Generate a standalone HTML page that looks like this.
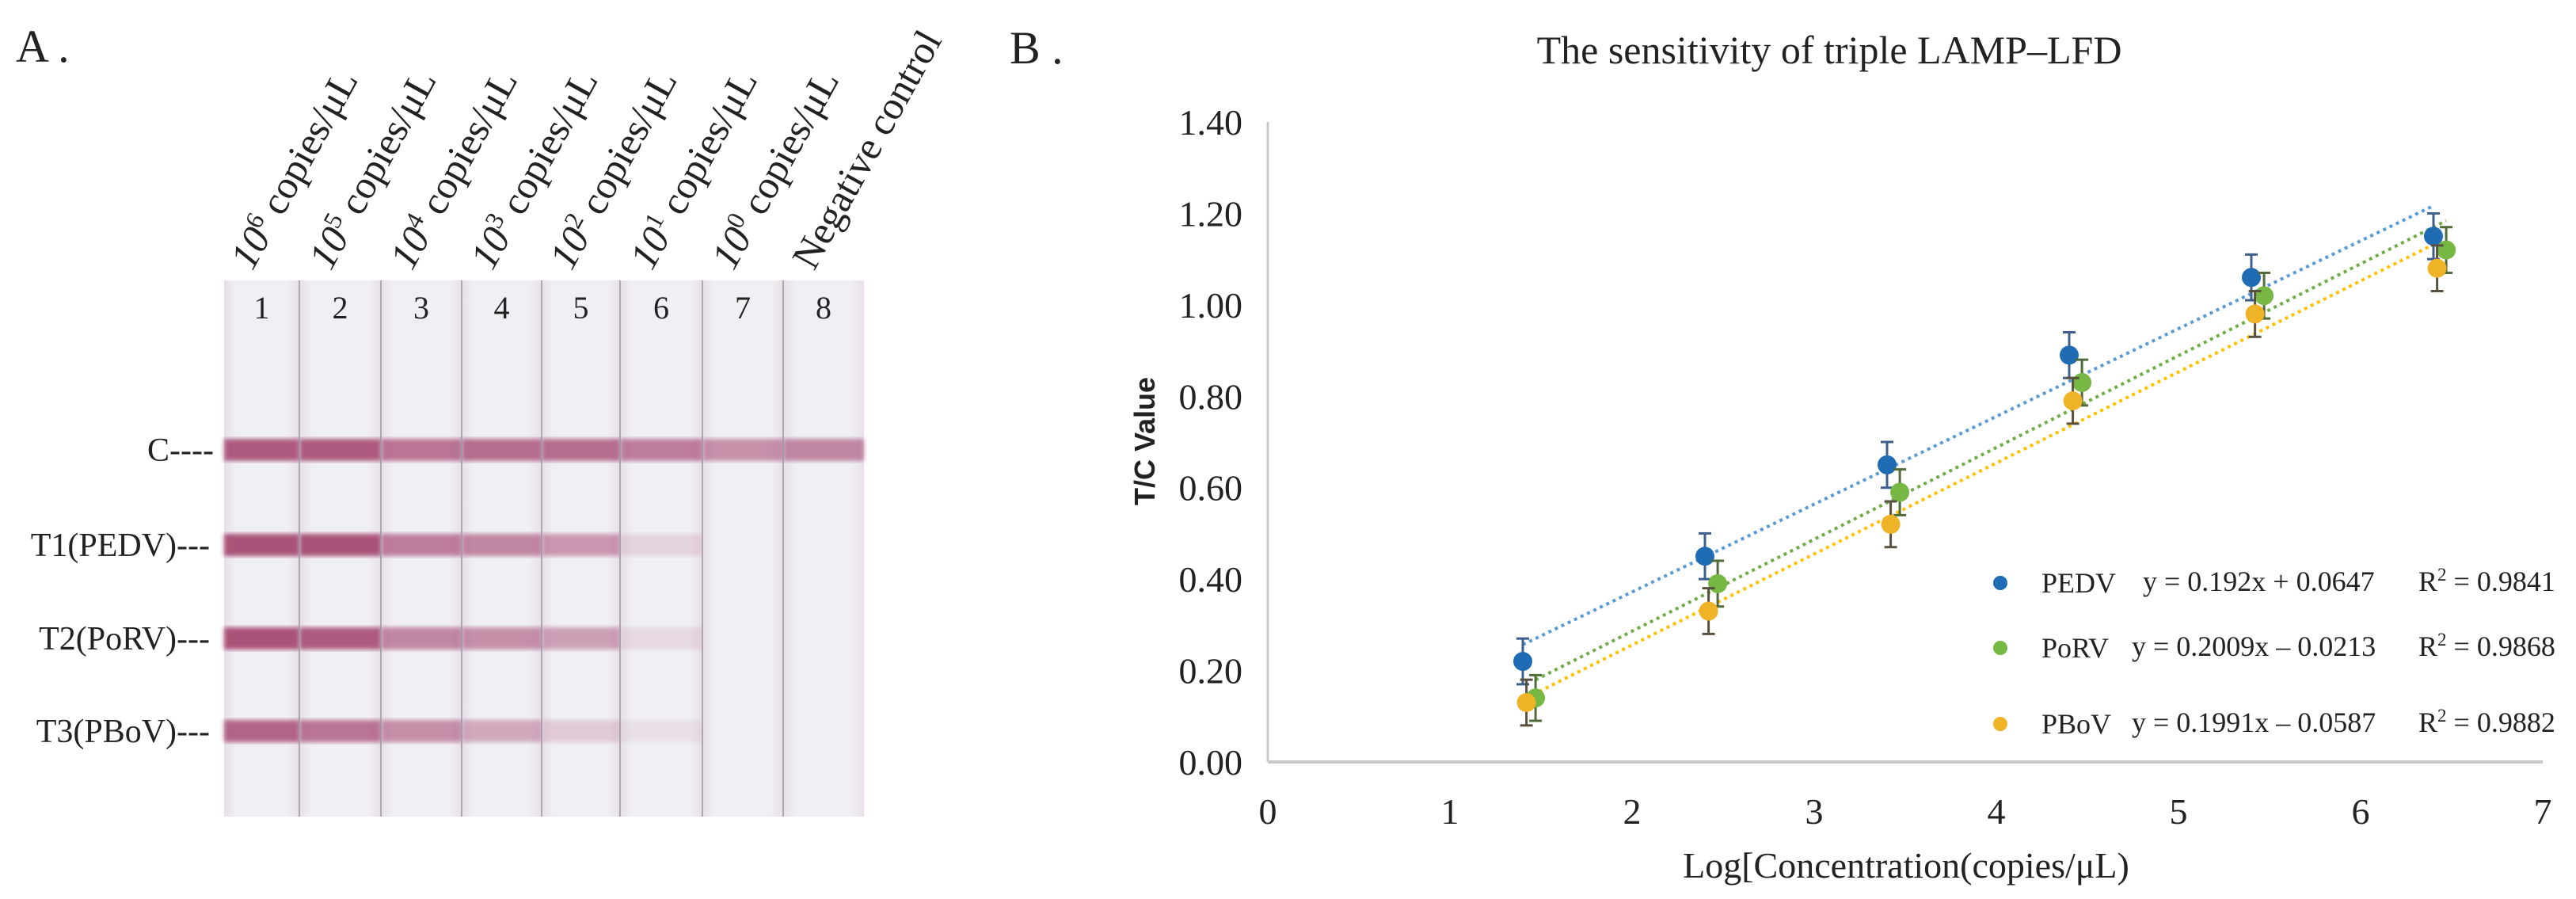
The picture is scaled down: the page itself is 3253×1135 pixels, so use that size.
<!DOCTYPE html>
<html><head><meta charset="utf-8"><style>
html,body{margin:0;padding:0;background:#fff;}
svg{display:block;}
text{font-family:"Liberation Serif",serif;fill:#222;}
</style></head><body>
<svg id="fig" width="3253" height="1135" viewBox="0 0 3253 1135" xmlns="http://www.w3.org/2000/svg">
<defs>
<linearGradient id="stripg" x1="0" x2="1" y1="0" y2="0">
<stop offset="0" stop-color="#e6dee7"/><stop offset="0.15" stop-color="#f0eff3"/><stop offset="0.85" stop-color="#f0eff3"/><stop offset="1" stop-color="#e8dfe8"/>
</linearGradient>
<filter id="blur"><feGaussianBlur stdDeviation="3"/></filter>
</defs>
<g id="panelA">
<text x="20" y="78" font-size="58">A .</text>
<g id="strips"></g>
<g id="laneLabels"></g>
<text x="270" y="582" font-size="42" text-anchor="end">C----</text>
<text x="265" y="702" font-size="42" text-anchor="end">T1(PEDV)---</text>
<text x="265" y="820" font-size="42" text-anchor="end">T2(PoRV)---</text>
<text x="265" y="937" font-size="42" text-anchor="end">T3(PBoV)---</text>
</g>
<g id="panelB">
<text x="1275" y="80" font-size="58">B .</text>
<text x="2310" y="80" font-size="50" text-anchor="middle">The sensitivity of triple LAMP–LFD</text>
<text transform="translate(1458,557) rotate(-90)" font-size="36" font-weight="bold" text-anchor="middle" style="font-family:'Liberation Sans',sans-serif" fill="#333">T/C Value</text>
<text x="2407" y="1108" font-size="46" text-anchor="middle">Log[Concentration(copies/μL)</text>
<g id="axes"></g>
<g id="marks"></g>
<g id="legend"></g>
</g>
</svg>
<script>
// ---- Panel A data ----
const laneLabels = ["10^6 copies/μL","10^5 copies/μL","10^4 copies/μL","10^3 copies/μL","10^2 copies/μL","10^1 copies/μL","10^0 copies/μL","Negative control"];
const laneEdges = [283,378,481,583,684,783,887,989,1091];
const cBand = [0.85,0.85,0.7,0.75,0.75,0.65,0.55,0.6];
const t1Band = [0.9,0.9,0.65,0.6,0.5,0.15,0,0];
const t2Band = [0.9,0.85,0.6,0.55,0.45,0.12,0,0];
const t3Band = [0.8,0.7,0.55,0.4,0.2,0.08,0,0];

// ---- Panel B data ----
const xTicks = [0,1,2,3,4,5,6,7];
const yTicks = [0,0.2,0.4,0.6,0.8,1.0,1.2,1.4];
const seriesNames = ["PEDV","PoRV","PBoV"];
const seriesX = [[1.4,2.4,3.4,4.4,5.4,6.4],[1.47,2.47,3.47,4.47,5.47,6.47],[1.42,2.42,3.42,4.42,5.42,6.42]];
const pedvY = [0.22,0.45,0.65,0.89,1.06,1.15];
const porvY = [0.14,0.39,0.59,0.83,1.02,1.12];
const pbovY = [0.13,0.33,0.52,0.79,0.98,1.08];
const errPedv = [0.05,0.05,0.05,0.05,0.05,0.05];
const errPorv = [0.05,0.05,0.05,0.05,0.05,0.05];
const errPbov = [0.05,0.05,0.05,0.05,0.05,0.05];
const slopes = [0.192,0.2009,0.1991];
const intercepts = [0.0647,-0.0213,-0.0587];
const equations = ["y = 0.192x + 0.0647","y = 0.2009x – 0.0213","y = 0.1991x – 0.0587"];
const r2 = ["0.9841","0.9868","0.9882"];

const NS="http://www.w3.org/2000/svg";
function mk(tag,attrs,parent){const e=document.createElementNS(NS,tag);for(const k in attrs)e.setAttribute(k,attrs[k]);parent.appendChild(e);return e;}

// Panel A
const strips=document.getElementById('strips');
const bandYs=[568,688,806,923];
const bands=[cBand,t1Band,t2Band,t3Band];
for(let i=0;i<8;i++){
  const x0=laneEdges[i], w=laneEdges[i+1]-laneEdges[i];
  const s=mk('rect',{x:x0,y:354,width:w,height:677,fill:'url(#stripg)'},strips);
  
  
  for(let b=0;b<4;b++){
    const v=bands[b][i]; if(v<=0) continue;
    const r=mk('rect',{x:x0,y:bandYs[b]-14,width:w,height:28,fill:'#a3436c',opacity:v,filter:'url(#blur)'},strips);
    
    
  }
  const n=mk('text',{x:x0+w/2,y:402,'font-size':40,'text-anchor':'middle',fill:'#333'},strips);
  n.textContent=String(i+1);
  
  
  if(i>0){const l=mk('line',{x1:x0,x2:x0,y1:354,y2:1031,stroke:'#9a95a0','stroke-width':1.5},strips);
    
    }
}
const ll=document.getElementById('laneLabels');
for(let i=0;i<8;i++){
  const cx=(laneEdges[i]+laneEdges[i+1])/2;
  const t=mk('text',{transform:'translate('+(cx-12)+',343) rotate(-61)','font-size':50},ll);
  
  
  const lab=laneLabels[i];
  if(lab.startsWith('10^')){
    const p=lab.split(' ');
    const base=p[0].split('^');
    const a=mk('tspan',{'font-style':'italic'},t);a.textContent=base[0];
    const b=mk('tspan',{'font-size':32,dy:-18},t);b.textContent=base[1];
    const c=mk('tspan',{dy:18},t);c.textContent=' '+p.slice(1).join(' ');
  } else t.textContent=lab;
}

// Panel B
const X0=1601,X1=3211,Y0=962,Y1=154;
const xs=v=>X0+(v-xTicks[0])/(xTicks[xTicks.length-1]-xTicks[0])*(X1-X0);
const ys=v=>Y0-(v-yTicks[0])/(yTicks[yTicks.length-1]-yTicks[0])*(Y0-Y1);
const ax=document.getElementById('axes');
let e=mk('line',{x1:X0,x2:X0,y1:ys(1.4),y2:Y0,stroke:'#c8c8c8','stroke-width':3},ax);


e=mk('line',{x1:X0,x2:X1,y1:Y0,y2:Y0,stroke:'#c8c8c8','stroke-width':4},ax);


yTicks.forEach(v=>{const t=mk('text',{x:1569,y:ys(v)+16,'font-size':46,'text-anchor':'end',fill:'#333'},ax);t.textContent=v.toFixed(2);
  
  });
xTicks.forEach(v=>{const t=mk('text',{x:xs(v),y:1040,'font-size':46,'text-anchor':'middle',fill:'#333'},ax);t.textContent=String(v);
  
  });

const ysData=[pedvY,porvY,pbovY], errs=[errPedv,errPorv,errPbov];
const dotCol=['#1f6cb5','#76b843','#efb328'];
const lineCol=['#5b9bd5','#70ad47','#ffc000'];
const errCol=['#3d5f8c','#4f6b3a','#5a5040'];
const mg=document.getElementById('marks');
for(let s=0;s<3;s++){
  const xa=seriesX[s], n=xa.length;
  const tl=mk('line',{x1:xs(xa[0]),y1:ys(slopes[s]*1+intercepts[s]),x2:xs(xa[n-1]),y2:ys(slopes[s]*n+intercepts[s]),stroke:lineCol[s],'stroke-width':4,'stroke-dasharray':'4 5'},mg);
  
  
}
for(let s=0;s<3;s++){
  const xa=seriesX[s];
  for(let i=0;i<xa.length;i++){
    const cx=xs(xa[i]), y=ysData[s][i], er=errs[s][i];
    const g=mk('g',{},mg);
    
    
    mk('line',{x1:cx,x2:cx,y1:ys(y+er),y2:ys(y-er),stroke:errCol[s],'stroke-width':3},g);
    mk('line',{x1:cx-8,x2:cx+8,y1:ys(y+er),y2:ys(y+er),stroke:errCol[s],'stroke-width':3},g);
    mk('line',{x1:cx-8,x2:cx+8,y1:ys(y-er),y2:ys(y-er),stroke:errCol[s],'stroke-width':3},g);
    mk('circle',{cx:cx,cy:ys(y),r:12,fill:dotCol[s]},g);
  }
}
const lg=document.getElementById('legend');
const legY=[736,818,914];
for(let s=0;s<3;s++){
  const g=mk('g',{},lg);
  
  
  mk('circle',{cx:2526,cy:legY[s],r:9,fill:dotCol[s]},g);
  let t=mk('text',{x:2578,y:legY[s]+12,'font-size':36},g);t.textContent=seriesNames[s];
  t=mk('text',{x:s===0?2706:2692,y:legY[s]+10,'font-size':36},g);t.textContent=equations[s];
  t=mk('text',{x:3054,y:legY[s]+10,'font-size':36},g);
  const a=mk('tspan',{},t);a.textContent='R';
  const b=mk('tspan',{'font-size':23,dy:-13},t);b.textContent='2';
  const c=mk('tspan',{dy:13},t);c.textContent=' = '+r2[s];
}
</script>
</body></html>
